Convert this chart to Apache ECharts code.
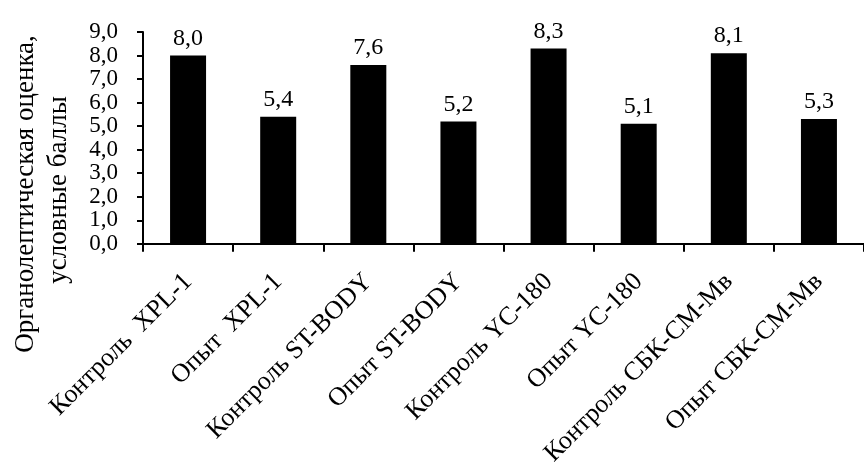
<!DOCTYPE html>
<html>
<head>
<meta charset="utf-8">
<script src="https://cdn.jsdelivr.net/npm/echarts@6/dist/echarts.min.js"></script>
<style>
html,body{margin:0;padding:0;background:#fff;}
#c{width:864px;height:469px;}
</style>
</head>
<body>
<div id="c"></div>
<script>
const categories = ['Контроль  XPL-1', 'Опыт  XPL-1', 'Контроль ST-BODY', 'Опыт ST-BODY', 'Контроль YC-180', 'Опыт YC-180', 'Контроль СБК-СМ-Мв', 'Опыт СБК-СМ-Мв'];
const values = [8.0, 5.4, 7.6, 5.2, 8.3, 5.1, 8.1, 5.3];
const titleLine1 = 'Органолептическая оценка,';
const titleLine2 = 'условные баллы';

const fmt = v => v.toFixed(1).replace('.', ',');
const font = '"Liberation Serif", "Times New Roman", serif';
const chart = echarts.init(document.getElementById('c'));
chart.setOption({
  animation: false,
  backgroundColor: '#fff',
  grid: { left: 143, top: 32, width: 728, height: 214, containLabel: false },
  xAxis: {
    type: 'category',
    data: categories,
    axisLine: { lineStyle: { color: '#000', width: 2 } },
    axisTick: { show: true, length: 8, lineStyle: { color: '#000', width: 2 } },
    axisLabel: { rotate: 45, interval: 0, margin: 34, padding: [30, 0, 0, 0], color: '#000', fontFamily: font, fontSize: 26 }
  },
  yAxis: {
    type: 'value', min: 0, max: 9, interval: 1,
    splitLine: { show: false },
    axisLine: { show: true, lineStyle: { color: '#000', width: 2 } },
    axisTick: { show: true, length: 6, lineStyle: { color: '#000', width: 2 } },
    axisLabel: { color: '#000', fontFamily: font, fontSize: 23, lineHeight: 18, margin: 25, formatter: fmt,
                 showMinLabel: true, showMaxLabel: true, hideOverlap: false }
  },
  series: [{
    type: 'bar',
    data: values,
    barWidth: 36,
    itemStyle: { color: '#000' },
    label: { show: true, position: 'top', distance: 5, color: '#000', fontFamily: font, fontSize: 24, formatter: p => fmt(p.value) }
  }],
  graphic: [
    { type: 'text', x: 26, y: 194, rotation: Math.PI / 2,
      style: { text: titleLine1, fill: '#000', font: '27px ' + font, textAlign: 'center', textVerticalAlign: 'middle' } },
    { type: 'text', x: 59, y: 190, rotation: Math.PI / 2,
      style: { text: titleLine2, fill: '#000', font: '27px ' + font, textAlign: 'center', textVerticalAlign: 'middle' } }
  ]
});
</script>
</body>
</html>
